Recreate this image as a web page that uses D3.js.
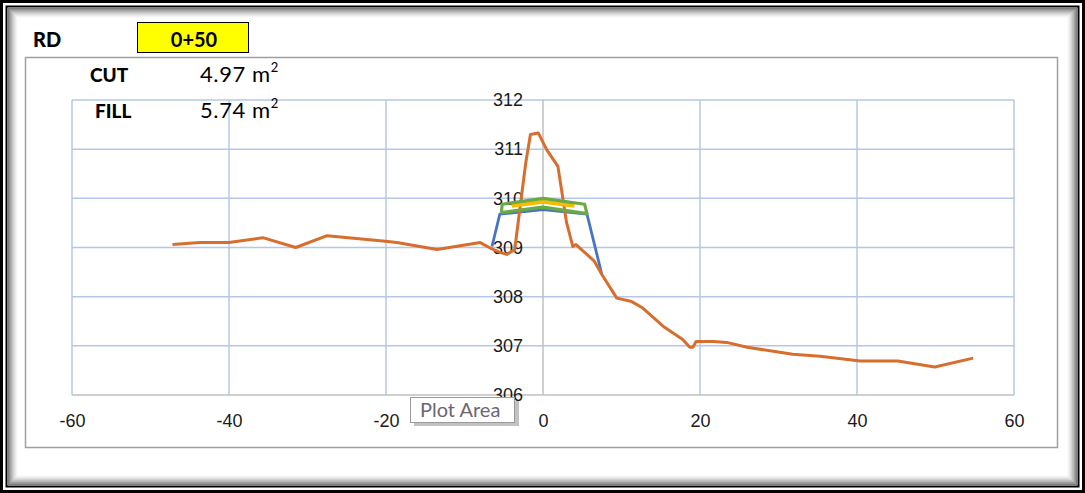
<!DOCTYPE html>
<html>
<head>
<meta charset="utf-8">
<script src="https://cdn.jsdelivr.net/npm/d3@7"></script>
<style>
  html, body { margin: 0; padding: 0; background: #fff; }
  svg { display: block; }
</style>
</head>
<body>
<svg width="1085" height="493"></svg>
<script>
// Ground profile (orange).
const groundX = [-47.2, -43.7, -40, -35.7, -31.5, -27.5, -20.4, -18.6, -13.5, -8, -6.5, -5.5, -4.6, -3.6,
  -2.2, -1.6, -0.6, 0.5, 1.9, 3.0, 3.8, 4.2, 5.3, 6.5, 7.5, 9.4, 11.3, 12.6, 15.3, 17.8, 18.7, 19.1,
  19.5, 21.7, 23.4, 26, 31.8, 35.3, 40.4, 45.2, 49.9, 54.8];
const groundY = [309.06, 309.1, 309.1, 309.2, 309.0, 309.24, 309.13, 309.1, 308.96, 309.1, 308.97, 308.9, 308.86, 308.96,
  310.72, 311.3, 311.33, 310.98, 310.65, 309.51, 309.02, 309.06, 308.9, 308.73, 308.45, 307.97, 307.9, 307.78,
  307.4, 307.13, 306.97, 306.97, 307.09, 307.09, 307.07, 306.97, 306.83, 306.79, 306.69, 306.69, 306.57, 306.75];

// Formation / side slopes (blue).
const formationX = [-6.5, -5.5, 0, 5.6, 7.5];
const formationY = [309.02, 309.68, 309.77, 309.68, 308.45];

// Pavement layer (green, closed outline).
const pavementX = [-5.3, -5.2, 0, 5.3, 5.6, 0, -5.3];
const pavementY = [309.71, 309.88, 310.0, 309.88, 309.69, 309.82, 309.71];

// Base layer (yellow).
const baseX = [-4, 0, 4];
const baseY = [309.85, 309.93, 309.85];

// Axis ticks and header values.
const xTicks = [-60, -40, -20, 0, 20, 40, 60];
const yTicks = [306, 307, 308, 309, 310, 311, 312];
const rdValue = "0+50";
const cutValue = "4.97";
const fillValue = "5.74";

const svg = d3.select("svg");
const W = 1085, H = 493;

// Scales for the plot area.
const x = d3.scaleLinear().domain([-60, 60]).range([72, 1014]);
const y = d3.scaleLinear().domain([306, 312]).range([395, 100]);

const axisFont = "'Liberation Sans', Arial, sans-serif";
const labelFont = "Lato, 'Open Sans', sans-serif";

// Outer frame: white page with double black border and inner shadow.
svg.append("rect").attr("x", 1.5).attr("y", 1.5).attr("width", W - 3).attr("height", H - 3)
  .attr("fill", "#fff").attr("stroke", "#000").attr("stroke-width", 3);
svg.append("rect").attr("x", 6.5).attr("y", 6.5).attr("width", W - 13).attr("height", H - 13)
  .attr("fill", "none").attr("stroke", "#000").attr("stroke-width", 2);
d3.range(10).forEach(i => {
  const inset = 8 + i;
  svg.append("rect")
    .attr("x", inset + 0.5).attr("y", inset + 0.5)
    .attr("width", W - 2 * inset - 1).attr("height", H - 2 * inset - 1)
    .attr("fill", "none")
    .attr("stroke", "#000")
    .attr("stroke-opacity", 0.5 * Math.pow(1 - i / 10, 1.5))
    .attr("stroke-width", 1);
});

// Chart box.
svg.append("rect").attr("x", 25.5).attr("y", 57.5).attr("width", 1032).attr("height", 390)
  .attr("fill", "#fff").attr("stroke", "#a0a0a0").attr("stroke-width", 1.5);

// Header: RD and station box.
svg.append("text").attr("x", 33).attr("y", 47)
  .attr("font-family", labelFont).attr("font-weight", "900").attr("font-size", 20)
  .text("RD");
svg.append("rect").attr("x", 137.5).attr("y", 22.5).attr("width", 111).attr("height", 30)
  .attr("fill", "#ffff00").attr("stroke", "#000").attr("stroke-width", 1);
svg.append("text").attr("x", 194).attr("y", 47).attr("text-anchor", "middle")
  .attr("font-family", labelFont).attr("font-weight", "bold").attr("font-size", 20)
  .text(rdValue);

// Gridlines.
const grid = svg.append("g");
grid.selectAll("line.v")
  .data(xTicks.filter(t => t !== 0))
  .enter().append("line")
  .attr("x1", d => x(d)).attr("x2", d => x(d))
  .attr("y1", y(306)).attr("y2", y(312))
  .attr("stroke", "#b4c7e7").attr("stroke-width", 1.5);
grid.selectAll("line.h")
  .data(yTicks.filter(t => t !== 306))
  .enter().append("line")
  .attr("x1", x(-60)).attr("x2", x(60))
  .attr("y1", d => y(d)).attr("y2", d => y(d))
  .attr("stroke", "#b4c7e7").attr("stroke-width", 1.5);

// Axes lines (x at 306, y at 0).
svg.append("line").attr("x1", x(-60)).attr("x2", x(60)).attr("y1", y(306)).attr("y2", y(306))
  .attr("stroke", "#bfbfbf").attr("stroke-width", 1.5);
svg.append("line").attr("x1", x(0)).attr("x2", x(0)).attr("y1", y(306)).attr("y2", y(312))
  .attr("stroke", "#bfbfbf").attr("stroke-width", 1.5);

// Tick labels.
const xAxis = svg.append("g").attr("transform", `translate(0,${y(306)})`)
  .call(d3.axisBottom(x).tickValues(xTicks).tickSize(0).tickPadding(19).tickFormat(d => String(d)));
const yAxis = svg.append("g").attr("transform", `translate(${x(0)},0)`)
  .call(d3.axisLeft(y).tickValues(yTicks).tickSize(0).tickPadding(20).tickFormat(d => String(d)));
[xAxis, yAxis].forEach(a => {
  a.select(".domain").remove();
  a.selectAll("text").attr("font-family", axisFont).attr("font-size", 18).attr("fill", "#1a1a1a");
});

// Series lines.
const line = d3.line().x(d => x(d[0])).y(d => y(d[1]));
const series = [
  { xs: formationX, ys: formationY, color: "#4675c6", w: 2.8 },
  { xs: groundX, ys: groundY, color: "#d86e2e", w: 3 },
  { xs: baseX, ys: baseY, color: "#f7bb00", w: 4 },
  { xs: pavementX, ys: pavementY, color: "#6aaa45", w: 3.2 }
];
svg.append("g").selectAll("path")
  .data(series)
  .enter().append("path")
  .attr("d", s => line(d3.zip(s.xs, s.ys)))
  .attr("fill", "none")
  .attr("stroke", s => s.color)
  .attr("stroke-width", s => s.w)
  .attr("stroke-linejoin", "round");

// Cut / fill areas.
function areaLabel(name, value, nameX, yBase) {
  svg.append("text").attr("x", nameX).attr("y", yBase)
    .attr("font-family", labelFont).attr("font-weight", "900").attr("font-size", 19)
    .text(name);
  const t = svg.append("text").attr("x", 200).attr("y", yBase)
    .attr("font-family", labelFont).attr("font-size", 22).attr("letter-spacing", 0.6);
  t.append("tspan").text(value + " m");
  t.append("tspan").attr("dy", -10).attr("font-size", 13).text("2");
}
areaLabel("CUT", cutValue, 90, 82);
areaLabel("FILL", fillValue, 95, 118);

// "Plot Area" tooltip.
svg.append("rect").attr("x", 414).attr("y", 401).attr("width", 105).attr("height", 25)
  .attr("fill", "#9a9a9a").attr("opacity", 0.6);
svg.append("rect").attr("x", 410.5).attr("y", 397.5).attr("width", 104).attr("height", 25)
  .attr("fill", "#fff").attr("stroke", "#9a9a9a").attr("stroke-width", 1);
svg.append("text").attr("x", 420).attr("y", 417)
  .attr("font-family", labelFont).attr("font-size", 20).attr("fill", "#6f6570")
  .text("Plot Area");
</script>
</body>
</html>
